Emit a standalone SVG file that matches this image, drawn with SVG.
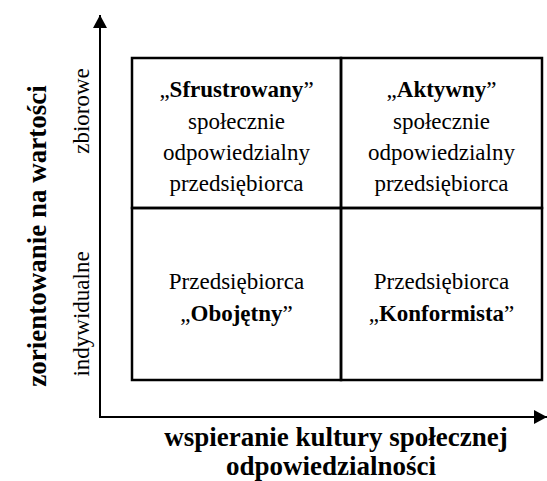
<svg xmlns="http://www.w3.org/2000/svg" width="547" height="481" viewBox="0 0 547 481">
<style>
text{font-family:'Liberation Serif','Times New Roman',Times,serif;fill:#000;text-anchor:middle}
.c{font-size:23px}
.b{font-weight:bold}
.lb{font-size:27px;font-weight:bold}
.cell{fill:none;stroke:#000;stroke-width:2.5}
.ax{stroke:#000;stroke-width:2;fill:none}
</style>
<defs>
<marker id="ah" markerWidth="13" markerHeight="14" refX="13" refY="7" orient="auto" markerUnits="userSpaceOnUse">
<path d="M0,0 L13,7 L0,14 Z" fill="#000"/>
</marker>
</defs>
<rect width="547" height="481" fill="#fff"/>
<g id="connectors">
<line class="ax" x1="100" y1="418" x2="100" y2="15" marker-end="url(#ah)"/>
<line class="ax" x1="99" y1="417" x2="547" y2="417" marker-end="url(#ah)"/>
</g>
<g id="frustrated">
<rect class="cell" x="132" y="58" width="209" height="150"/>
<text class="c" x="236.5" y="97">„<tspan class="b">Sfrustrowany</tspan>”</text>
<text class="c" x="236.5" y="128.5">społecznie</text>
<text class="c" x="236.5" y="159.5">odpowiedzialny</text>
<text class="c" x="236.5" y="191">przedsiębiorca</text>
</g>
<g id="active">
<rect class="cell" x="341" y="58" width="201" height="150"/>
<text class="c" x="441.5" y="97">„<tspan class="b">Aktywny</tspan>”</text>
<text class="c" x="441.5" y="128.5">społecznie</text>
<text class="c" x="441.5" y="159.5">odpowiedzialny</text>
<text class="c" x="441.5" y="191">przedsiębiorca</text>
</g>
<g id="indifferent">
<rect class="cell" x="132" y="208" width="209" height="172"/>
<text class="c" x="236.5" y="289">Przedsiębiorca</text>
<text class="c" x="236.5" y="321">„<tspan class="b">Obojętny</tspan>”</text>
</g>
<g id="conformist">
<rect class="cell" x="341" y="208" width="201" height="172"/>
<text class="c" x="441.5" y="289">Przedsiębiorca</text>
<text class="c" x="441.5" y="321">„<tspan class="b">Konformista</tspan>”</text>
</g>
<g id="x-label">
<text class="lb" x="336" y="446">wspieranie kultury społecznej</text>
<text class="lb" x="331" y="475">odpowiedzialności</text>
</g>
<g id="y-label">
<text class="lb" transform="translate(46,236) rotate(-90)">zorientowanie na wartości</text>
<text class="c" transform="translate(89,111) rotate(-90)">zbiorowe</text>
<text class="c" transform="translate(89,314) rotate(-90)">indywidualne</text>
</g>
</svg>
